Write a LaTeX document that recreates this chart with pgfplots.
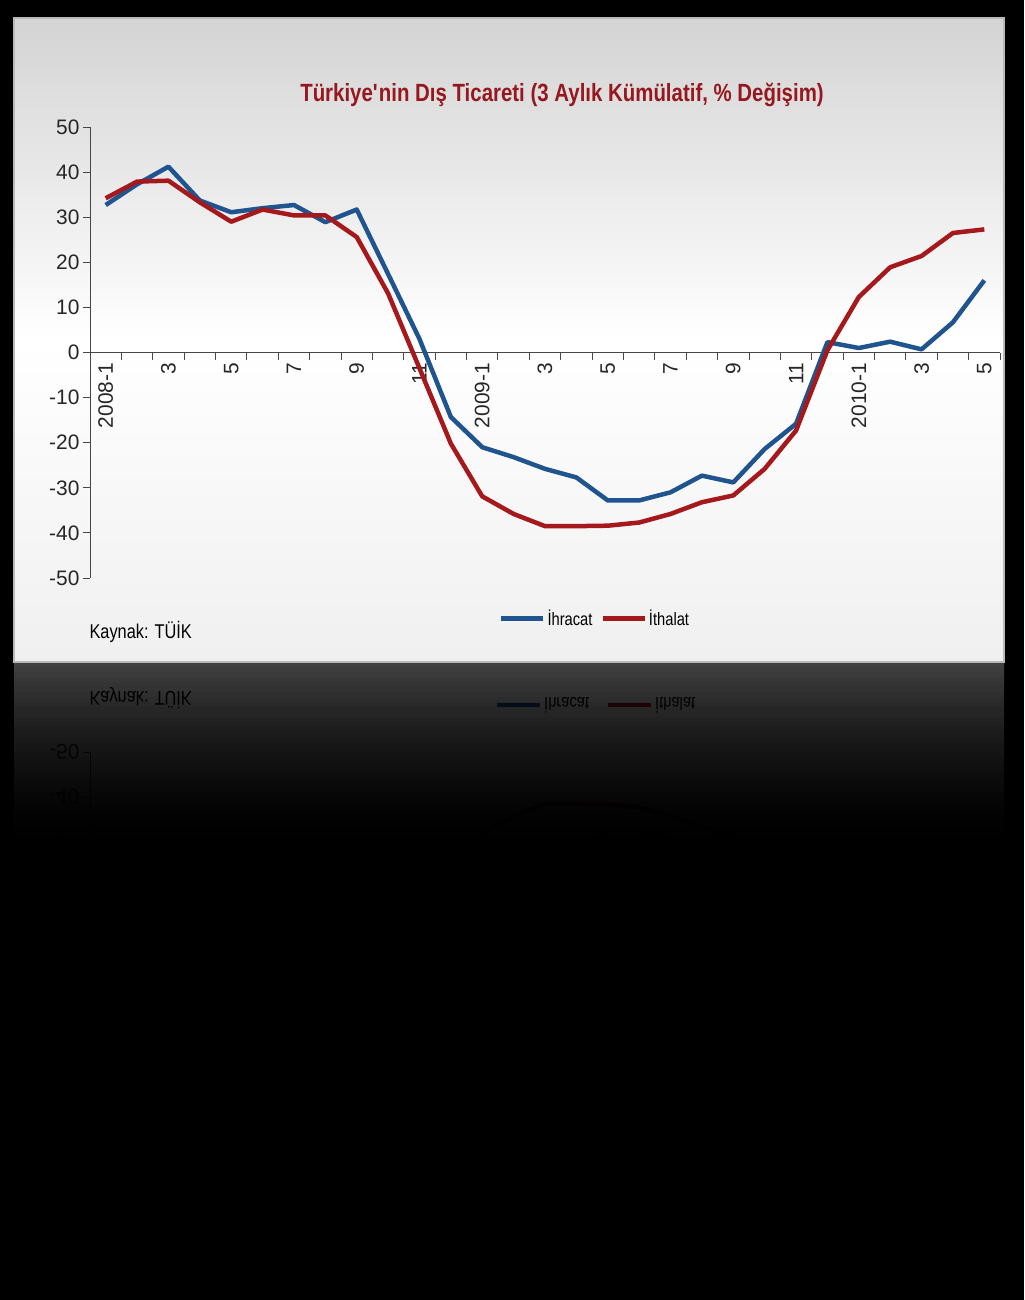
\documentclass[border=0pt]{standalone}
\usepackage{pgfplots}
\pgfplotsset{compat=1.18}
\usepackage{pgfplotstable}
\usepackage{fontspec}
\setmainfont{Liberation Sans}
\newfontfamily\narrow{Liberation Sans}[FakeStretch=0.82]

\definecolor{ihrblue}{RGB}{31,84,143}
\definecolor{ithred}{RGB}{165,25,28}
\definecolor{titlered}{RGB}{150,24,30}
\definecolor{axisgray}{RGB}{70,70,70}

% 3 aylik kumulatif degisim (%), 2008-1 ... 2010-5
\pgfplotstableread{
m   ihr    ith
0   32.7   34.2
1   37.3   37.9
2   41.2   38.1
3   33.7   33.3
4   31.1   29.0
5   32.0   31.7
6   32.7   30.4
7   28.9   30.4
8   31.7   25.6
9   17.4   13.1
10   3.0   -3.5
11 -14.3  -20.2
12 -21.0  -31.9
13 -23.2  -35.8
14 -25.8  -38.5
15 -27.7  -38.5
16 -32.8  -38.4
17 -32.8  -37.7
18 -31.0  -35.8
19 -27.3  -33.2
20 -28.8  -31.7
21 -21.4  -25.8
22 -15.8  -17.3
23   2.3    0.5
24   1.0   12.3
25   2.4   18.9
26   0.7   21.4
27   6.7   26.5
28  16.0   27.3
}\trade

\pgfplotsset{
  trade axis/.style={
    scale only axis, width=910bp, height=451bp,
    xmin=-0.5, xmax=28.5, ymin=-50, ymax=50,
    axis x line*=middle, axis y line*=left,
    axis line style={axisgray, line width=0.9bp},
    xtick={0,...,28},
    minor xtick={-0.5,0.5,...,28.5},
    major x tick style={draw=none},
    minor x tick style={axisgray, line width=0.9bp},
    ytick={-50,-40,...,50},
    y tick style={axisgray, line width=0.9bp},
    tick align=outside,
    major tick length=7bp, minor tick length=7bp,
    /pgf/number format/assume math mode=true,
    tick label style={font=\fontsize{21}{24}\selectfont, text=black!85},
  },
}

\begin{document}
\begin{tikzpicture}
\begin{scope}[x=1bp, y=-1bp]
  \fill[black] (0,0) rectangle (1024,1300);
  % reflected panel
  \shade[top color=gray!12, bottom color=white] (14,662) rectangle (1004,980);
\end{scope}

% reflection of the chart
\begin{axis}[trade axis, at={(90bp,-752bp)}, anchor=north west, y dir=reverse,
  xticklabels={}, yticklabel style={yscale=-1}]
\addplot[ihrblue, line width=4.5bp, line join=round] table[x=m, y=ihr]{\trade};
\addplot[ithred, line width=4.5bp, line join=round] table[x=m, y=ith]{\trade};
\end{axis}

\begin{scope}[x=1bp, y=-1bp]
  \node[anchor=west, yscale=-1, font=\narrow\fontsize{20}{22}\selectfont] at (86,698) {Kaynak: TÜİK};
  \draw[ihrblue, line width=4.5] (497,705) -- (540,705);
  \node[anchor=west, yscale=-1, font=\narrow\fontsize{18}{20}\selectfont, inner sep=2bp] at (542,705) {İhracat};
  \draw[ithred, line width=4.5] (608,705) -- (651,705);
  \node[anchor=west, yscale=-1, font=\narrow\fontsize{18}{20}\selectfont, inner sep=2bp] at (653,705) {İthalat};
  % fade the reflection into the black background
  \foreach \i in {0,...,47} {
    \pgfmathsetmacro\op{1-0.27*(max(0,1-\i/40))^2}
    \fill[black, opacity=\op] (0,662+5*\i) rectangle (1024,667+5*\i);
  }
  \fill[black] (0,900) rectangle (1024,1300);
  % main panel
  \shade[top color=gray!34, bottom color=white] (14,18) rectangle (1004,340);
  \shade[top color=white, bottom color=gray!12] (14,340) rectangle (1004,662);
  \draw[gray!55, line width=1.5] (14,18) rectangle (1004,662);
  \node[font=\narrow\bfseries\fontsize{25}{28}\selectfont, text=titlered] at (562,95)
    {Türkiye\textquotesingle nin Dış Ticareti (3 Aylık Kümülatif, \% Değişim)};
  \node[anchor=west, font=\narrow\fontsize{20}{22}\selectfont] at (86,632) {Kaynak: TÜİK};
\end{scope}

\begin{axis}[trade axis, at={(90bp,-578bp)}, anchor=south west,
  xticklabels={2008-1,,3,,5,,7,,9,,11,,2009-1,,3,,5,,7,,9,,11,,2010-1,,3,,5},
  xticklabel style={rotate=90, anchor=east},
  legend style={at={(0.555,-0.09)}, anchor=center, draw=none, fill=none,
    legend columns=2, font=\narrow\fontsize{18}{20}\selectfont,
    /tikz/every even column/.append style={column sep=6bp}},
  legend image code/.code={\draw[#1, line width=4.5bp] (0bp,0bp) -- (42bp,0bp);}]
\addplot[ihrblue, line width=4.5bp, line join=round] table[x=m, y=ihr]{\trade};
\addplot[ithred, line width=4.5bp, line join=round] table[x=m, y=ith]{\trade};
\legend{İhracat, İthalat}
\end{axis}
\end{tikzpicture}
\end{document}
